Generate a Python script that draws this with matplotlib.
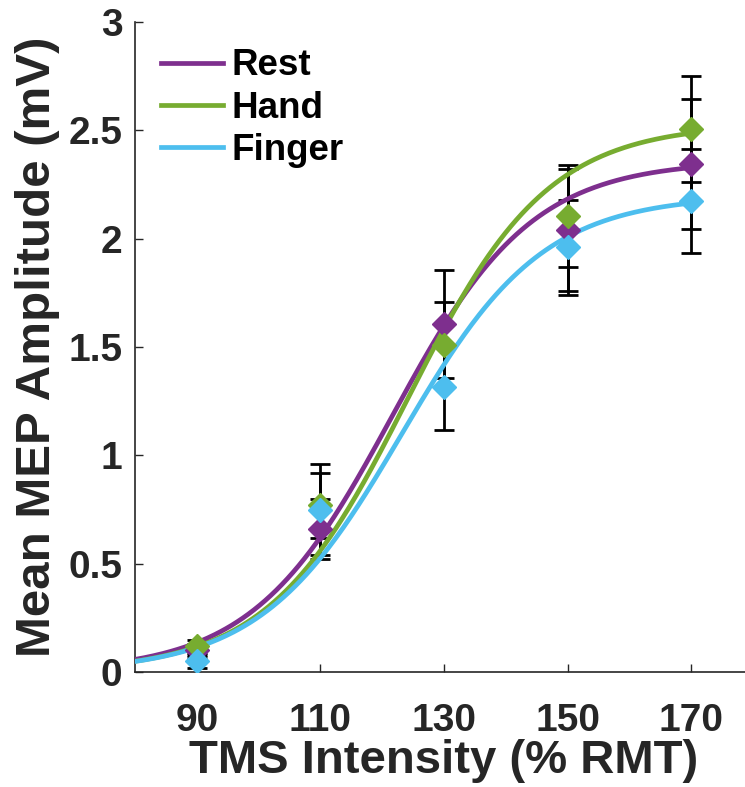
import numpy as np
import matplotlib
matplotlib.use("Agg")
import matplotlib.pyplot as plt

plt.rcParams['font.family'] = ['Liberation Sans', 'DejaVu Sans']
plt.rcParams['font.weight'] = 'bold'

# Data
intensity = [90, 110, 130, 150, 170]
conditions = ['Rest', 'Hand', 'Finger']
rest_mean = [0.10, 0.66, 1.605, 2.04, 2.345]
rest_err = [0.03, 0.14, 0.25, 0.28, 0.30]
hand_mean = [0.12, 0.77, 1.51, 2.105, 2.505]
hand_err = [0.03, 0.15, 0.20, 0.235, 0.245]
finger_mean = [0.05, 0.75, 1.315, 1.96, 2.175]
finger_err = [0.03, 0.21, 0.20, 0.22, 0.24]

# Boltzmann sigmoid fit parameters (max amplitude, S50, slope)
rest_fit = (2.36, 121.6, 11.3)
hand_fit = (2.53, 124.2, 11.3)
finger_fit = (2.20, 123.2, 11.4)

colors = ['#7E2F8E', '#77AC30', '#4DBEEE']
xticks = [90, 110, 130, 150, 170]
yticks = [0, 0.5, 1, 1.5, 2, 2.5, 3]
ytick_labels = ['0', '0.5', '1', '1.5', '2', '2.5', '3']

fig = plt.figure(figsize=(7.45, 7.87), dpi=100)
ax = fig.add_axes([135/745, 115/787, 618/745, 650/787])

xs = np.linspace(80, 170, 300)
means = [rest_mean, hand_mean, finger_mean]
errs = [rest_err, hand_err, finger_err]
fits = [rest_fit, hand_fit, finger_fit]

# error bars
for m, e in zip(means, errs):
    ax.errorbar(intensity, m, yerr=e, fmt='none', ecolor='black',
                elinewidth=2, capsize=7.5, capthick=2, zorder=2)

# fitted curves
for name, (a, c, k), col in zip(conditions, fits, colors):
    ax.plot(xs, a / (1 + np.exp(-(xs - c) / k)), color=col, lw=3.4,
            label=name, zorder=3)

# markers
for m, col in zip(means, colors):
    ax.plot(intensity, m, linestyle='none', marker='D', markersize=12,
            color=col, markeredgecolor=col, zorder=4)

ax.set_xlim(80, 180)
ax.set_ylim(0, 3)
ax.set_xticks(xticks)
ax.set_xticklabels([str(t) for t in xticks])
ax.set_yticks(yticks)
ax.set_yticklabels(ytick_labels)
ax.tick_params(direction='in', length=6, width=1, colors='#262626',
               labelsize=28, labelcolor='#262626')
ax.tick_params(axis='x', pad=22)
ax.tick_params(axis='y', pad=9)
for lab in ax.get_xticklabels() + ax.get_yticklabels():
    lab.set_fontweight('bold')
ax.spines['top'].set_visible(False)
ax.spines['right'].set_visible(False)
for s in ['left', 'bottom']:
    ax.spines[s].set_color('#262626')
    ax.spines[s].set_linewidth(1.2)

ax.set_xlabel('TMS Intensity (% RMT)', fontsize=34, fontweight='bold',
              color='#262626', labelpad=0)
ax.set_ylabel('Mean MEP Amplitude (mV)', fontsize=35.5, fontweight='bold',
              color='#262626', labelpad=6)

leg = ax.legend(loc='upper left', bbox_to_anchor=(0.0, 0.999), frameon=False,
                fontsize=26.5, handlelength=1.68, handletextpad=0.25,
                labelspacing=0.2, borderaxespad=0.3)
for t in leg.get_texts():
    t.set_fontweight('bold')
for l in leg.get_lines():
    l.set_linewidth(3.4)

fig.savefig('out.png', dpi=100)
